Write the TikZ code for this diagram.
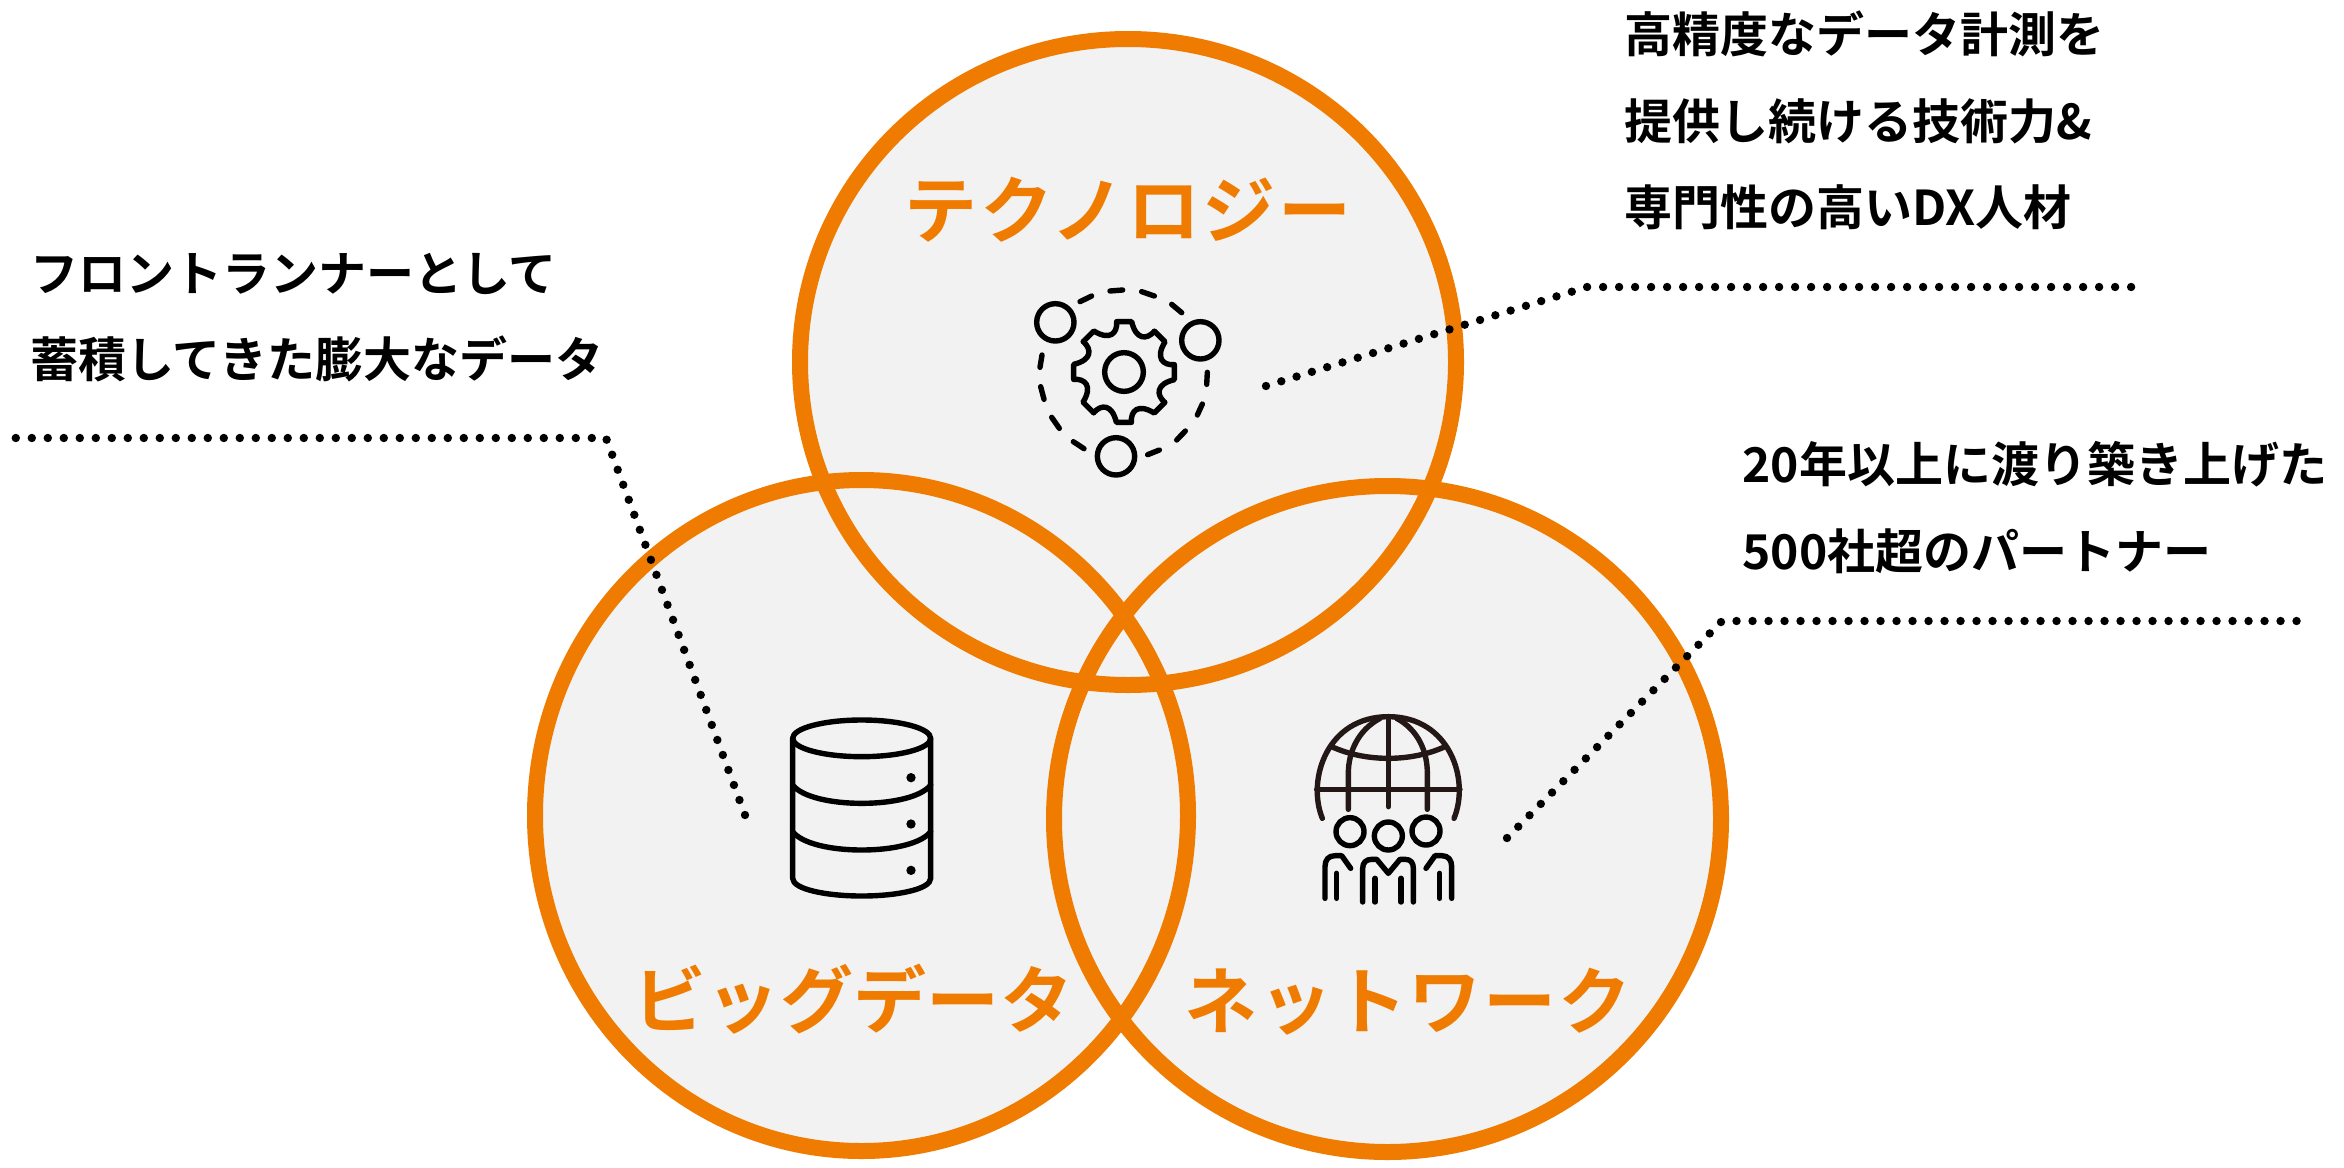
\documentclass[tikz,border=0pt]{standalone}
\usepackage{fontspec}
\newfontfamily\jpb{Noto Sans CJK JP Bold}
\newfontfamily\jph[LetterSpace=3.5]{Noto Sans CJK JP Bold}
\newfontfamily\jpi[LetterSpace=0.5]{Noto Sans CJK JP Bold}
\newfontfamily\jpj[LetterSpace=2.5]{Noto Sans CJK JP Bold}
\definecolor{orng}{HTML}{EF7C00}
\definecolor{pale}{HTML}{F2F2F2}
\definecolor{ink}{HTML}{231815}
\tikzset{
  ring/.style={draw=orng,line width=8pt},
  disc/.style={fill=pale},
  heading/.style={text=orng,inner sep=0pt,anchor=center},
  note/.style={font=\jpb\fontsize{24}{24}\selectfont,text=black,inner sep=0pt,anchor=west},
  leader/.style={draw=black,line width=4.2pt,line cap=round,dash pattern=on 0pt off 8pt},
  icon/.style={draw=black,line width=2.7pt,line cap=round,line join=round},
  iconb/.style={draw=ink,line width=2.7pt,line cap=round,line join=round},
}
\begin{document}
\begin{tikzpicture}[x=0.5pt,y=-0.5pt]
\useasboundingbox (0,0) rectangle (2344,1167);
\fill[white] (0,0) rectangle (2344,1167);
% discs
\coordinate (ct) at (1128,362);
\coordinate (cl) at (861.5,815.5);
\coordinate (cr) at (1387.5,819);
\fill[disc] (ct) ellipse[x radius=328,y radius=323];
\fill[disc] (cl) ellipse[x radius=326.5,y radius=335.5];
\fill[disc] (cr) ellipse[x radius=333.5,y radius=333];
\draw[ring] (ct) ellipse[x radius=328,y radius=323];
\draw[ring] (cl) ellipse[x radius=326.5,y radius=335.5];
\draw[ring] (cr) ellipse[x radius=333.5,y radius=333];
% headings
\node[heading,font=\jph\fontsize{36.5}{36.5}\selectfont] (h1) at (1128,210) {テクノロジー};
\node[heading,font=\jpi\fontsize{36.5}{36.5}\selectfont] (h2) at (853.5,999) {ビッグデータ};
\node[heading,font=\jpj\fontsize{36.5}{36.5}\selectfont] (h3) at (1408,1002) {ネットワーク};
% notes
\node[note] (n1) at (1624,34) {高精度なデータ計測を};
\node[note] (n2) at (1624,121) {提供し続ける技術力\&};
\node[note] (n3) at (1624,207) {専門性の高いDX人材};
\node[note] (n4) at (30,274) {フロントランナーとして};
\node[note] (n5) at (30,359) {蓄積してきた膨大なデータ};
\node[note] (n6) at (1742,464) {20年以上に渡り築き上げた};
\node[note] (n7) at (1742,551) {500社超のパートナー};
% leaders
\coordinate (a1) at (1266,386);
\coordinate (a2) at (1587,287);
\coordinate (a3) at (2146,287);
\coordinate (b1) at (745,815);
\coordinate (b2) at (606,438);
\coordinate (b3) at (5,438);
\coordinate (c1) at (1507,838);
\coordinate (c2) at (1722,621);
\coordinate (c3) at (2300,621);
\draw[leader] (a1) -- (a2) -- (a3);
\draw[leader] (b1) -- (b2) -- (b3);
\draw[leader] (c1) -- (c2) -- (c3);
% gear icon
\begin{scope}[shift={(980,260)},x=0.16667pt,y=-0.16667pt]
\draw[icon] (226,187) circle[radius=56];
\draw[icon] (661,241) circle[radius=56];
\draw[icon] (408,589) circle[radius=56];
\draw[icon] (432,336) circle[radius=58];
\foreach \a in {0,45,...,315}{
  \draw[icon,rotate around={\a:(432,336)}] (410,185) -- (455,185) .. controls (468,240) and (500,240) .. (523,214);
}
\draw[icon] (300,125) -- (335,108);
\draw[icon] (390,93) -- (428,90);
\draw[icon] (485,95) -- (523,108);
\draw[icon] (575,133) -- (605,158);
\draw[icon] (682,337) -- (680,373);
\draw[icon] (667,432) -- (652,465);
\draw[icon] (616,513) -- (590,540);
\draw[icon] (538,570) -- (503,584);
\draw[icon] (312,566) -- (280,545);
\draw[icon] (238,505) -- (215,472);
\draw[icon] (192,418) -- (182,380);
\draw[icon] (180,322) -- (186,285);
\end{scope}
% database icon
\begin{scope}[shift={(760,690)},x=0.16667pt,y=-0.16667pt]
\draw[icon] (305,145) ellipse[x radius=207,y radius=55];
\draw[icon] (98,145) -- (98,565) .. controls (98,598) and (200,618) .. (305,618) .. controls (410,618) and (512,598) .. (512,565) -- (512,145);
\draw[icon] (98,285) .. controls (125,320) and (210,340) .. (305,340) .. controls (400,340) and (485,320) .. (512,285);
\draw[icon] (98,425) .. controls (125,460) and (210,480) .. (305,480) .. controls (400,480) and (485,460) .. (512,425);
\fill[black] (453,263) circle[radius=14];
\fill[black] (453,402) circle[radius=14];
\fill[black] (453,541) circle[radius=14];
\end{scope}
% globe icon
\begin{scope}[shift={(1290,690)},x=0.16667pt,y=-0.16667pt]
\draw[iconb] (97,385) .. controls (50,270) and (110,80) .. (295,80) .. controls (480,80) and (540,270) .. (492,385);
\draw[iconb] (80,298) -- (510,298);
\draw[iconb] (295,80) -- (295,350);
\draw[iconb] (270,85) .. controls (205,120) and (175,185) .. (175,250) -- (175,358);
\draw[iconb] (320,85) .. controls (385,120) and (412,185) .. (412,250) -- (412,358);
\draw[iconb] (125,170) .. controls (180,195) and (240,205) .. (295,205) .. controls (350,205) and (410,195) .. (465,170);
\draw[icon] (180,425) circle[radius=42];
\draw[icon] (295,438) circle[radius=42];
\draw[icon] (408,423) circle[radius=42];
\draw[icon] (105,625) -- (105,530) .. controls (105,510) and (115,497) .. (135,497) -- (155,497) -- (182,535);
\draw[icon] (140,625) -- (140,550);
\draw[icon] (218,636) -- (218,535) .. controls (218,518) and (228,508) .. (245,508) -- (260,508) -- (295,550) -- (330,508) -- (345,508) .. controls (362,508) and (370,518) .. (370,535) -- (370,636);
\draw[icon] (255,636) -- (255,565);
\draw[icon] (333,636) -- (333,565);
\draw[icon] (408,535) -- (435,497) -- (455,497) .. controls (475,497) and (485,510) .. (485,530) -- (485,625);
\draw[icon] (449,625) -- (449,550);
\end{scope}
\end{tikzpicture}
\end{document}
